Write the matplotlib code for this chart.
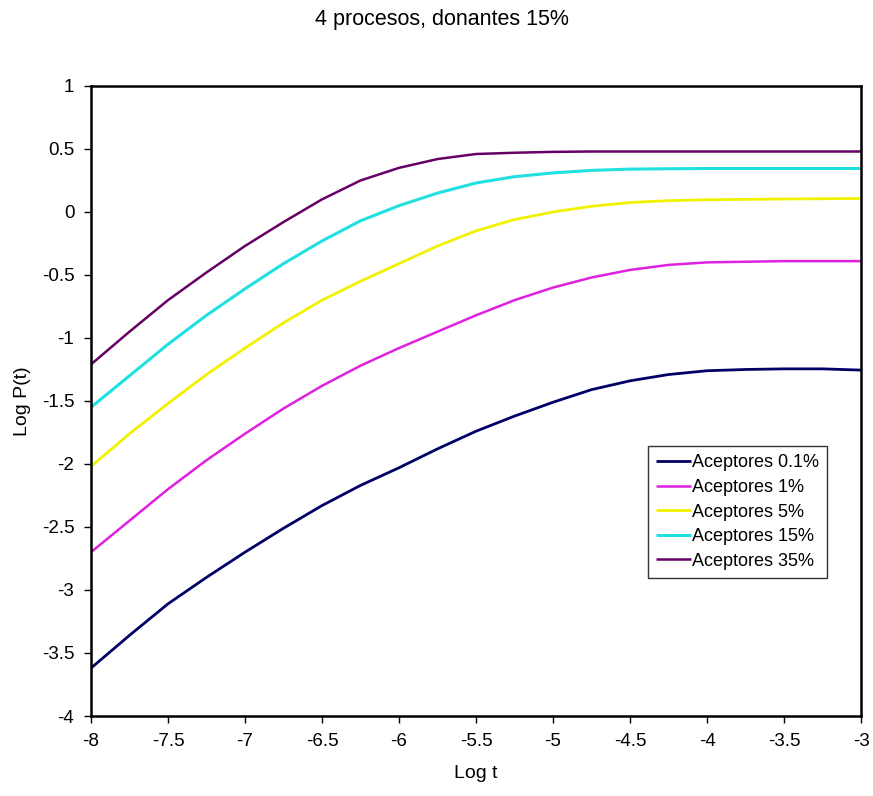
import matplotlib
matplotlib.use("Agg")
import matplotlib.pyplot as plt

plt.rcParams['font.family'] = ['Liberation Sans', 'DejaVu Sans']

log_t = [-8.0, -7.75, -7.5, -7.25, -7.0, -6.75, -6.5, -6.25, -6.0, -5.75, -5.5,
         -5.25, -5.0, -4.75, -4.5, -4.25, -4.0, -3.75, -3.5, -3.25, -3.0]

acep_01 = [-3.62, -3.36, -3.11, -2.90, -2.70, -2.51, -2.33, -2.17, -2.03, -1.88, -1.74,
           -1.62, -1.51, -1.41, -1.34, -1.29, -1.26, -1.25, -1.245, -1.245, -1.255]
acep_1 = [-2.70, -2.45, -2.20, -1.97, -1.76, -1.56, -1.38, -1.22, -1.08, -0.95, -0.82,
          -0.70, -0.60, -0.52, -0.46, -0.42, -0.40, -0.395, -0.39, -0.39, -0.39]
acep_5 = [-2.02, -1.76, -1.52, -1.29, -1.08, -0.88, -0.70, -0.55, -0.41, -0.27, -0.15,
          -0.06, 0.00, 0.045, 0.075, 0.09, 0.097, 0.10, 0.103, 0.105, 0.107]
acep_15 = [-1.55, -1.30, -1.05, -0.82, -0.61, -0.41, -0.23, -0.07, 0.05, 0.15, 0.23,
           0.28, 0.31, 0.33, 0.34, 0.343, 0.345, 0.345, 0.345, 0.345, 0.345]
acep_35 = [-1.21, -0.95, -0.70, -0.48, -0.27, -0.08, 0.10, 0.25, 0.35, 0.42, 0.46,
           0.47, 0.477, 0.48, 0.48, 0.48, 0.48, 0.48, 0.48, 0.48, 0.48]

labels = ['Aceptores 0.1%', 'Aceptores 1%', 'Aceptores 5%', 'Aceptores 15%', 'Aceptores 35%']
colors = ['#000066', '#E020E0', '#F2F200', '#20E0E0', '#660066']
widths = [2.0, 1.8, 2.0, 2.2, 1.8]

fig = plt.figure(figsize=(8.73, 7.96), dpi=100)
ax = fig.add_axes([0.1042, 0.1005, 0.8821, 0.7915])

for ys, lab, c, w in zip([acep_01, acep_1, acep_5, acep_15, acep_35], labels, colors, widths):
    ax.plot(log_t, ys, color=c, lw=w, label=lab, solid_capstyle='butt', solid_joinstyle='round')

ax.set_xlim(-8, -3)
ax.set_ylim(-4, 1)
xt = [-8, -7.5, -7, -6.5, -6, -5.5, -5, -4.5, -4, -3.5, -3]
yt = [-4, -3.5, -3, -2.5, -2, -1.5, -1, -0.5, 0, 0.5, 1]
ax.set_xticks(xt)
ax.set_xticklabels(['%g' % v for v in xt])
ax.set_yticks(yt)
ax.set_yticklabels(['%g' % v for v in yt])
ax.tick_params(direction='out', length=5, width=1, labelsize=13.5, pad=7)
for s in ax.spines.values():
    s.set_linewidth(1.8)
    s.set_color('black')

ax.set_xlabel('Log t', fontsize=14, labelpad=11)
ax.set_ylabel('Log P(t)', fontsize=14, labelpad=8)
fig.text(0.506, 0.976, '4 procesos, donantes 15%', ha='center', va='center', fontsize=15.5)

leg = ax.legend(loc='upper left', bbox_to_anchor=(0.723, 0.428), fontsize=13,
                frameon=True, fancybox=False, edgecolor='black', handlelength=1.95,
                handletextpad=0.05, borderpad=0.45, labelspacing=0.42, borderaxespad=0)
leg.get_frame().set_linewidth(1.0)

fig.savefig('out.png', dpi=100)
